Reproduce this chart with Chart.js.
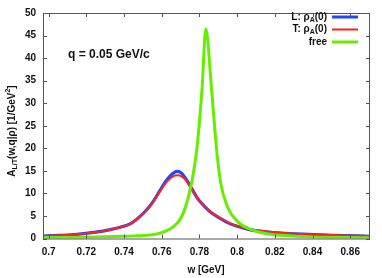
<!DOCTYPE html>
<html>
<head>
<meta charset="utf-8">
<script src="https://cdn.jsdelivr.net/npm/chart.js@4"></script>
<style>
  html, body { margin: 0; padding: 0; background: #fff; }
  #wrap { width: 382px; height: 278px; }
</style>
</head>
<body>
<div id="wrap"><canvas id="chart" width="382" height="278"></canvas></div>
<script>
// Значения
const W_RHO = [0.697, 0.705, 0.715, 0.725, 0.732, 0.738, 0.7435, 0.7485, 0.7525, 0.7556, 0.759, 0.762, 0.765, 0.768, 0.7705, 0.773, 0.776, 0.779, 0.7823, 0.786, 0.7912, 0.7955, 0.8001, 0.8072, 0.815, 0.8232, 0.835, 0.85, 0.8705];
const A_L = [0.55, 0.68, 0.9, 1.4, 1.9, 2.5, 3.3, 4.9, 6.6, 8.3, 10.6, 12.6, 14.1, 14.9, 14.5, 13.1, 11.0, 8.9, 7.3, 5.8, 4.4, 3.4, 2.7, 1.9, 1.5, 1.2, 0.95, 0.72, 0.5];
const A_T = [0.58, 0.7, 0.92, 1.4, 1.9, 2.5, 3.3, 4.85, 6.5, 8.2, 10.4, 12.2, 13.5, 14.0, 13.8, 12.8, 10.9, 8.9, 7.35, 5.9, 4.5, 3.5, 2.8, 2.0, 1.6, 1.3, 1.0, 0.78, 0.55];
const W_FREE = [0.697, 0.72, 0.735, 0.7468, 0.755, 0.7592, 0.7635, 0.7663, 0.769, 0.7716, 0.7743, 0.7766, 0.7788, 0.7814, 0.7834, 0.7864, 0.789, 0.7912, 0.7948, 0.8001, 0.8072, 0.815, 0.825, 0.84, 0.8705];
const A_FREE = [0.2, 0.3, 0.45, 0.6, 0.85, 1.2, 1.9, 2.7, 3.8, 5.8, 9.5, 14.0, 20.5, 33.3, 46.5, 33.3, 20.2, 12.5, 7.1, 3.8, 2.0, 1.1, 0.65, 0.35, 0.15];

const X_TICKS = [0.7, 0.72, 0.74, 0.76, 0.78, 0.8, 0.82, 0.84, 0.86];
const Y_TICKS = [0, 5, 10, 15, 20, 25, 30, 35, 40, 45, 50];

const toPts = (xs, ys) => xs.map((x, i) => ({ x: x, y: ys[i] }));

const FONT = '"Liberation Sans", Arial, sans-serif';

// Рамка, засечки внутрь, подписи с индексами
const decor = {
    id: 'decor',
    afterDraw(chart) {
        const ctx = chart.ctx;
        const a = chart.chartArea;
        const sx = chart.scales.x, sy = chart.scales.y;
        ctx.save();
        ctx.strokeStyle = '#555';
        ctx.lineWidth = 1;
        ctx.strokeRect(a.left + 0.5, a.top + 0.5, a.right - a.left - 1, a.bottom - a.top);
        ctx.beginPath();
        X_TICKS.forEach(v => {
            const px = Math.round(sx.getPixelForValue(v)) + 0.5;
            ctx.moveTo(px, a.bottom); ctx.lineTo(px, a.bottom - 4);
            ctx.moveTo(px, a.top); ctx.lineTo(px, a.top + 4);
        });
        Y_TICKS.forEach(v => {
            const py = Math.round(sy.getPixelForValue(v)) + 0.5;
            ctx.moveTo(a.left, py); ctx.lineTo(a.left + 4, py);
            ctx.moveTo(a.right, py); ctx.lineTo(a.right - 4, py);
        });
        ctx.stroke();

        ctx.fillStyle = '#111';
        ctx.textBaseline = 'middle';

        // q = 0.05 GeV/c
        ctx.font = 'bold 12px ' + FONT;
        ctx.textAlign = 'left';
        ctx.fillText('q = 0.05 GeV/c', 68, 55);

        // Легенда
        const rows = [
            { pre: 'L: ρ', sub: 'A', post: '(0)', color: '#2244ff' },
            { pre: 'T: ρ', sub: 'A', post: '(0)', color: '#ff2222' },
            { pre: 'free', sub: '', post: '', color: '#66ee00' }
        ];
        rows.forEach((r, i) => {
            const y = 17 + i * 12.5;
            ctx.font = 'bold 10px ' + FONT;
            const wPost = ctx.measureText(r.post).width;
            const wPre = ctx.measureText(r.pre).width;
            ctx.font = 'bold 7px ' + FONT;
            const wSub = ctx.measureText(r.sub).width;
            let x = 327 - wPost - wSub - wPre;
            ctx.textAlign = 'left';
            ctx.font = 'bold 10px ' + FONT;
            ctx.fillText(r.pre, x, y); x += wPre;
            ctx.font = 'bold 7px ' + FONT;
            ctx.fillText(r.sub, x, y + 3); x += wSub;
            ctx.font = 'bold 10px ' + FONT;
            ctx.fillText(r.post, x, y);
            ctx.beginPath();
            ctx.moveTo(332, y); ctx.lineTo(358, y);
            ctx.strokeStyle = r.color;
            ctx.lineWidth = i === 1 ? 2 : 3;
            ctx.stroke();
        });

        // Подпись оси X
        ctx.font = 'bold 10px ' + FONT;
        ctx.textAlign = 'center';
        ctx.fillText('w [GeV]', 206, 270);

        // Подпись оси Y (повернутая)
        ctx.translate(12, 131);
        ctx.rotate(-Math.PI / 2);
        const parts = [
            ['A', 10, 0], ['L/T', 7, 3], ['(w,q|ρ) [1/GeV', 10, 0], ['2', 7, -4], [']', 10, 0]
        ];
        let total = 0;
        parts.forEach(p => { ctx.font = 'bold ' + p[1] + 'px ' + FONT; total += ctx.measureText(p[0]).width; });
        let x = -total / 2;
        ctx.textAlign = 'left';
        parts.forEach(p => {
            ctx.font = 'bold ' + p[1] + 'px ' + FONT;
            ctx.fillText(p[0], x, p[2]);
            x += ctx.measureText(p[0]).width;
        });
        ctx.restore();
    }
};

new Chart(document.getElementById('chart'), {
    type: 'line',
    data: {
        datasets: [
            { label: 'free', data: toPts(W_FREE, A_FREE), borderColor: '#66ee00', borderWidth: 3, order: 0 },
            { label: 'T', data: toPts(W_RHO, A_T), borderColor: '#ff2222', borderWidth: 2, order: 1 },
            { label: 'L', data: toPts(W_RHO, A_L), borderColor: '#2244ff', borderWidth: 3.2, order: 2 }
        ]
    },
    options: {
        responsive: false,
        animation: false,
        elements: { point: { radius: 0 }, line: { cubicInterpolationMode: 'monotone', fill: false } },
        layout: { padding: { top: 10, right: 12, left: 0, bottom: 0 } },
        plugins: { legend: { display: false }, tooltip: { enabled: false } },
        scales: {
            x: {
                type: 'linear', min: 0.697, max: 0.8705,
                grid: { display: false, drawTicks: false },
                border: { display: false },
                afterBuildTicks: s => { s.ticks = X_TICKS.map(v => ({ value: v })); },
                afterFit: s => { s.height = 39.5; },
                ticks: { color: '#111', padding: 8, maxRotation: 0, font: { family: FONT, size: 10, weight: 'bold' }, callback: v => String(v) }
            },
            y: {
                min: 0, max: 50,
                grid: { display: false, drawTicks: false },
                border: { display: false },
                afterBuildTicks: s => { s.ticks = Y_TICKS.map(v => ({ value: v })); },
                afterFit: s => { s.width = 43; },
                ticks: { color: '#111', padding: 7, font: { family: FONT, size: 10, weight: 'bold' } }
            }
        }
    },
    plugins: [decor]
});
</script>
</body>
</html>
